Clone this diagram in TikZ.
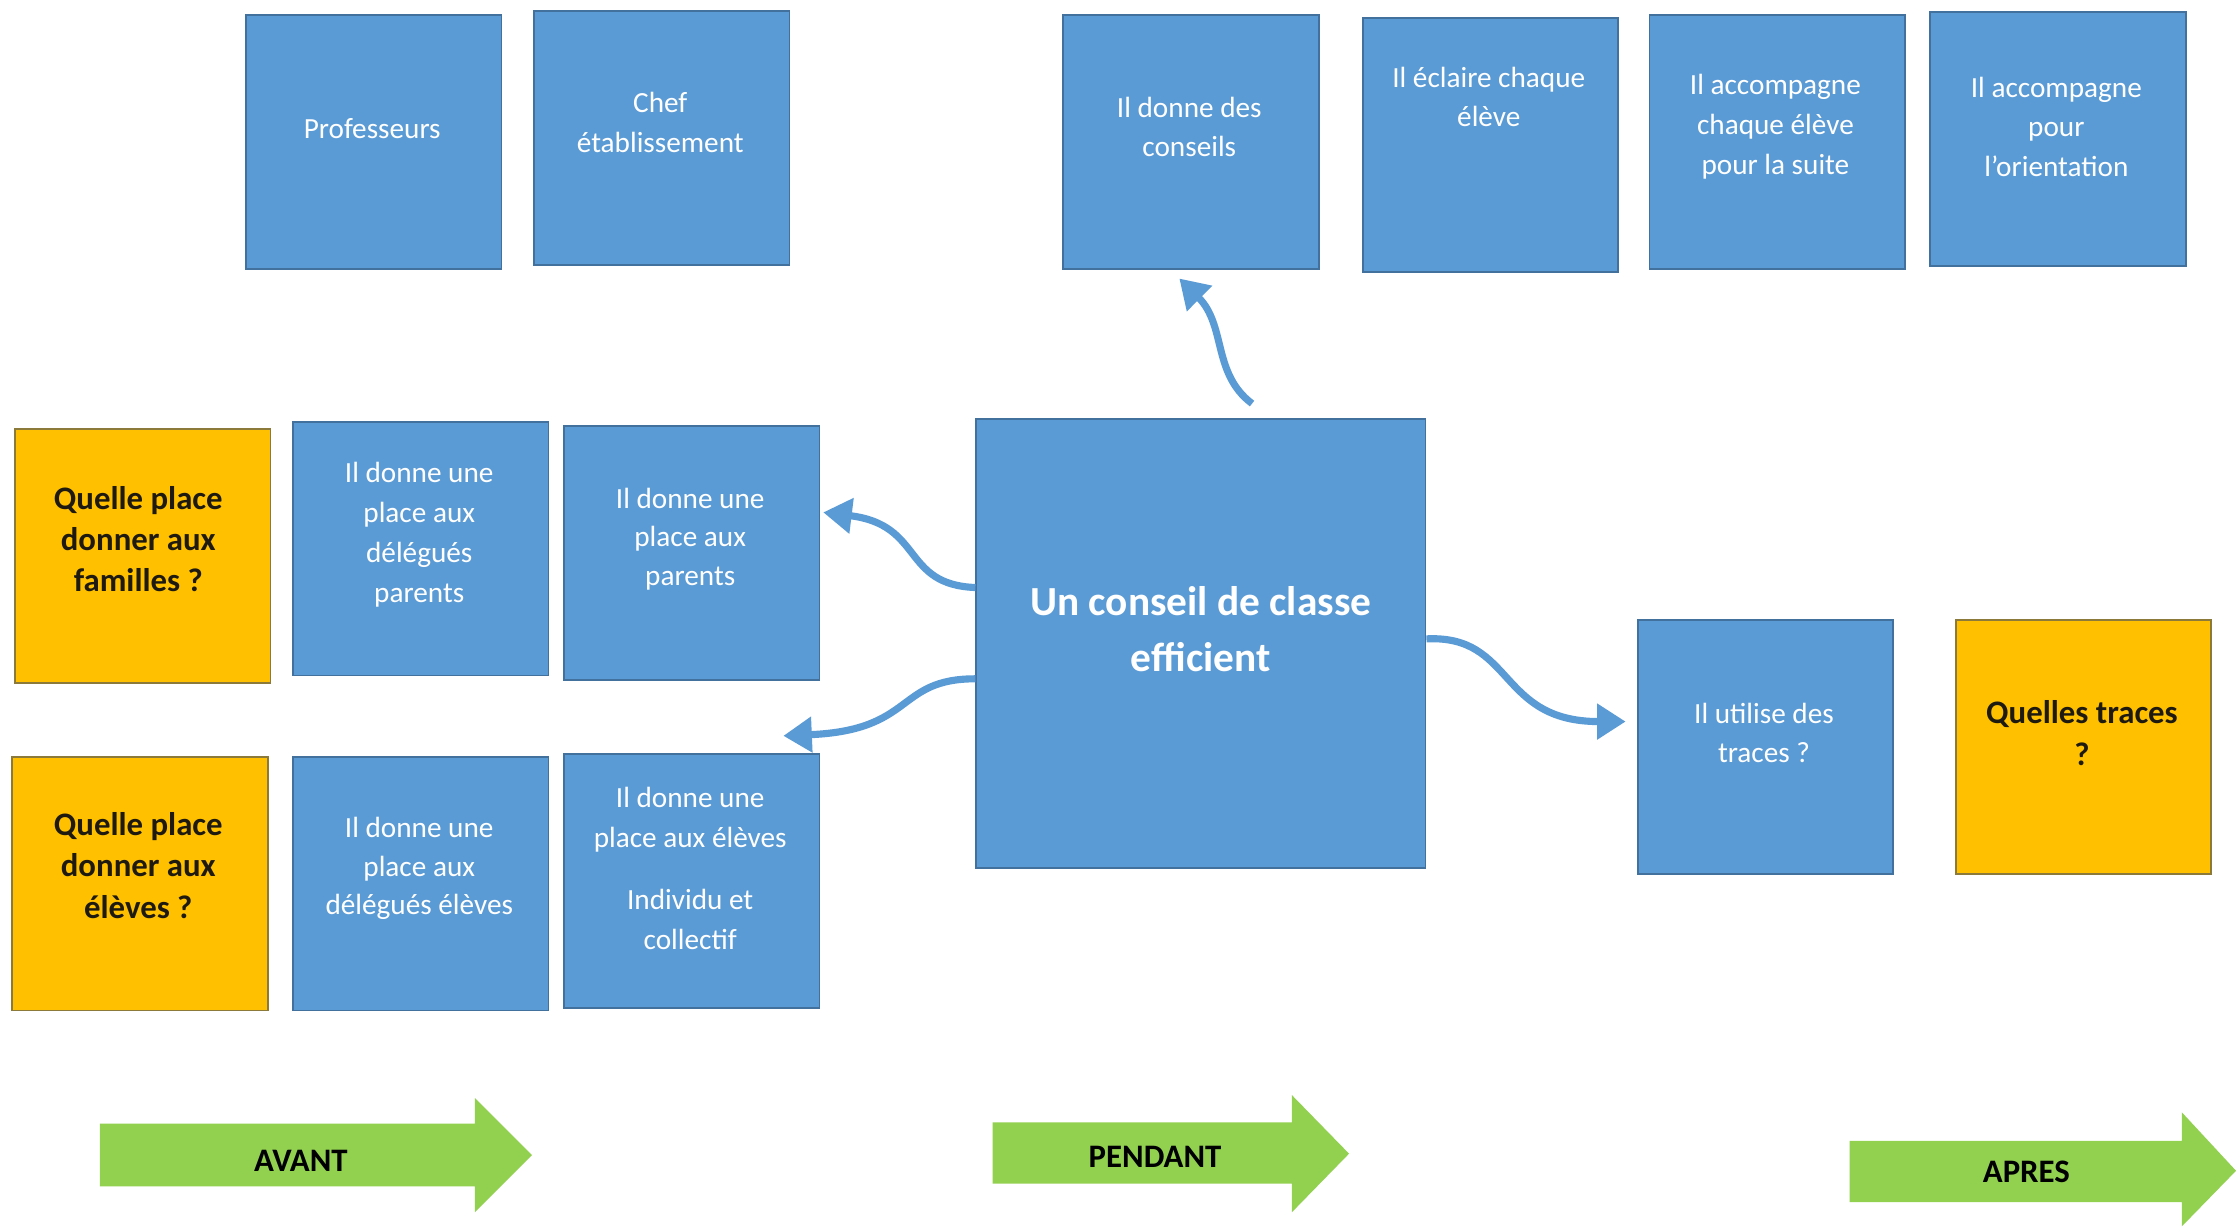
\documentclass[tikz,border=0pt]{standalone}
\usepackage{fontspec}
\setmainfont{Carlito}
\usetikzlibrary{arrows.meta,calc}
\definecolor{blueb}{HTML}{5B9BD5}
\definecolor{bluebd}{HTML}{41719C}
\definecolor{orangeb}{HTML}{FFC000}
\definecolor{orangebd}{HTML}{8C7A3A}
\definecolor{greena}{HTML}{92D050}
\definecolor{darktxt}{HTML}{1E1A10}
\tikzset{
  box/.style={line width=1.3pt, minimum width=179pt, minimum height=178pt, inner sep=0pt, anchor=north west},
  bluebox/.style={box, draw=bluebd, fill=blueb},
  orangebox/.style={box, draw=orangebd, fill=orangeb},
  btxt/.style={align=center, text=white, font=\fontsize{20.5}{28}\selectfont, inner sep=0pt},
  otxt/.style={align=center, text=darktxt, font=\fontsize{23}{29}\selectfont\bfseries, inner sep=0pt},
  gtxt/.style={text=black, font=\fontsize{23}{26}\selectfont\bfseries, inner sep=0pt},
  curvearrow/.style={draw=blueb, line width=5pt, -{Triangle[length=20pt,width=24pt]}},
  greenarrow/.style={fill=greena, draw=none}
}
\begin{document}
\begin{tikzpicture}[x=1pt,y=-1pt]
\useasboundingbox[fill=white] (0,0) rectangle (1568,860);

% top row
\node[bluebox] (prof) at (172,10) {};
\node[bluebox] (chef) at (374,7) {};
\node[bluebox] (cons) at (745,10) {};
\node[bluebox] (ecl) at (955,12) {};
\node[bluebox] (acc) at (1156,10) {};
\node[bluebox] (ori) at (1353,8) {};
\node[btxt] (tprof) at (261,90) {Professeurs};
\node[btxt] (tchef) at (463,86) {Chef\\établissement};
\node[btxt] (tcons) at (834,89) {Il donne des\\conseils};
\node[btxt] (tecl) at (1044,68) {Il éclaire chaque\\élève};
\node[btxt] (tacc) at (1245,89) {Il accompagne\\chaque élève\\pour la suite};
\node[btxt] (tori) at (1442,89) {Il accompagne\\pour\\l’orientation};

% middle left
\node[orangebox] (qfam) at (10,300) {};
\node[bluebox] (dpar) at (205,295) {};
\node[bluebox] (par) at (395,298) {};
\node[otxt] (tqfam) at (97,378) {Quelle place\\donner aux\\familles ?};
\node[btxt] (tdpar) at (294,375) {Il donne une\\place aux\\délégués\\parents};
\node[btxt, font=\fontsize{20.5}{27}\selectfont] (tpar) at (484,378) {Il donne une\\place aux\\parents};

\node[orangebox] (qel) at (8,530) {};
\node[bluebox] (del) at (205,530) {};
\node[bluebox] (el) at (395,528) {};
\node[otxt] (tqel) at (97,607) {Quelle place\\donner aux\\élèves ?};
\node[btxt, font=\fontsize{20.5}{27}\selectfont] (tdel) at (294,609) {Il donne une\\place aux\\délégués élèves};
\node[btxt] (tel) at (484,609) {Il donne une\\place aux élèves\\[16pt]Individu et\\collectif};

% central
\node[draw=bluebd, fill=blueb, line width=1.3pt, minimum width=315pt, minimum height=315pt, inner sep=0pt, anchor=north west] (cent) at (684,293) {};
\node[align=center, text=white, font=\fontsize{29}{39}\selectfont\bfseries, inner sep=0pt] (tcent) at (842,441) {Un conseil de classe\\efficient};

% right
\node[bluebox] (trc) at (1148,434) {};
\node[orangebox] (qtr) at (1371,434) {};
\node[btxt] (ttrc) at (1237,514) {Il utilise des\\traces ?};
\node[otxt] (tqtr) at (1460,514) {Quelles traces\\?};

% curved arrows
\draw[curvearrow] ([xshift=194pt,yshift=10pt]cent.north west) .. controls (850,262) and (860,228) .. ([xshift=82pt,yshift=-6pt]cons.south west);
\draw[curvearrow] ([yshift=-119pt]cent.north west) .. controls (632,410) and (648,368) .. ([xshift=2pt,yshift=118pt]par.south east);
\draw[curvearrow] ([yshift=-183pt]cent.north west) .. controls (628,476) and (642,512) .. ([xshift=-26pt,yshift=12pt]el.north east);
\draw[curvearrow] ([yshift=-155pt]cent.north east) .. controls (1062,445) and (1050,506) .. ([xshift=-8pt,yshift=-72pt]trc.north west);

% green arrows
\fill[greenarrow] (70,788) -- (333,788) -- (333,770) -- (373,810) -- (333,850) -- (333,832) -- (70,832) -- cycle;
\node[gtxt] (avant) at (211,814) {AVANT};
\fill[greenarrow] (696,787) -- (906,787) -- (906,768) -- (946,809) -- (906,850) -- (906,830) -- (696,830) -- cycle;
\node[gtxt] (pendant) at (810,811) {PENDANT};
\fill[greenarrow] (1297,800) -- (1530,800) -- (1530,780) -- (1568,821) -- (1530,860) -- (1530,843) -- (1297,843) -- cycle;
\node[gtxt] (apres) at (1421,822) {APRES};
\end{tikzpicture}
\end{document}
